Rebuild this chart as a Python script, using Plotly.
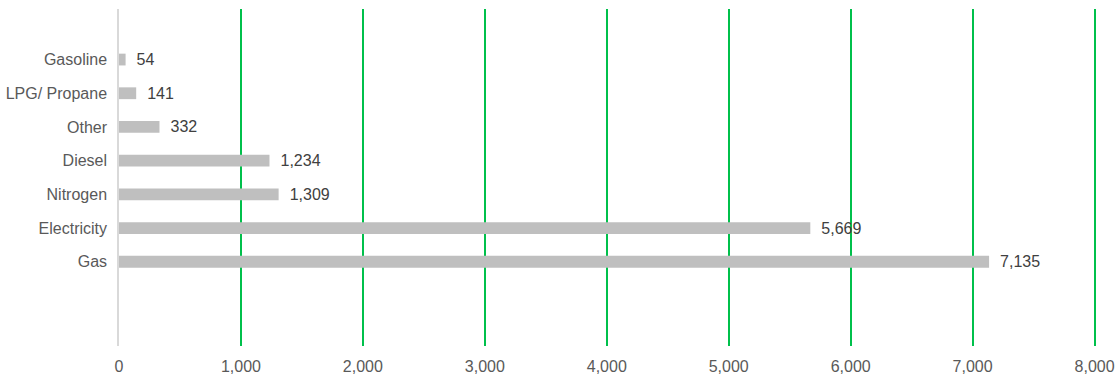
import plotly.graph_objects as go

categories = ["Gas", "Electricity", "Nitrogen", "Diesel", "Other", "LPG/ Propane", "Gasoline"]
values = [7135, 5669, 1309, 1234, 332, 141, 54]
x_ticks = [0, 1000, 2000, 3000, 4000, 5000, 6000, 7000, 8000]

fig = go.Figure(go.Bar(
    y=categories,
    x=values,
    orientation="h",
    width=0.35,
    marker=dict(color="#BFBFBF", line=dict(width=0)),
    text=["\u2002" + f"{v:,}" for v in values],
    textposition="outside",
    constraintext="none",
    textfont=dict(family="Liberation Sans, Arial", size=16, color="#404040"),
    cliponaxis=False,
    hoverinfo="skip",
))

fig.update_layout(
    width=1120, height=376,
    margin=dict(l=119, r=23, t=9, b=30, autoexpand=False),
    paper_bgcolor="white", plot_bgcolor="white",
    font=dict(family="Liberation Sans, Arial", size=16, color="#595959"),
    showlegend=False,
    bargap=0.65,
)
fig.update_xaxes(
    range=[0, 8020],
    tickvals=x_ticks,
    ticktext=[f"{v:,}" for v in x_ticks],
    showgrid=True, gridcolor="#00C04B", gridwidth=1.5,
    zeroline=False, showline=False,
    ticks="outside", ticklen=6, tickcolor="rgba(0,0,0,0)",
    automargin=False,
)
fig.update_yaxes(
    type="category",
    categoryorder="array", categoryarray=categories,
    range=[-2.5, 7.5],
    showgrid=False, zeroline=False,
    showline=True, linecolor="#D9D9D9", linewidth=1.5,
    ticks="outside", ticklen=7, tickcolor="rgba(0,0,0,0)",
    automargin=False,
)

fig.write_html(
    "out.html",
    config={"displayModeBar": False},
    post_script="document.body.style.margin='0';document.body.style.overflow='hidden';",
)
